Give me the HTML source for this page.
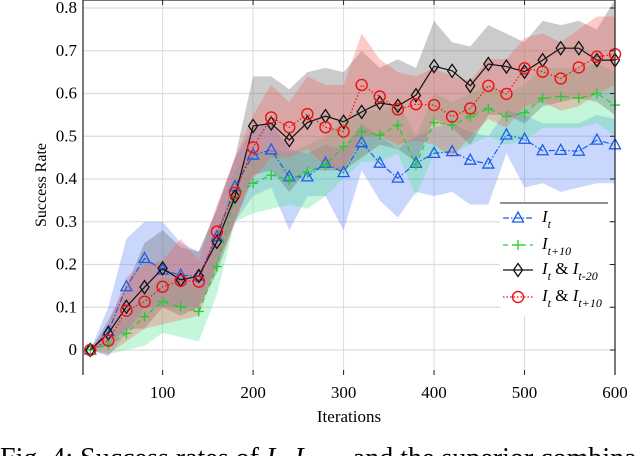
<!DOCTYPE html>
<html><head><meta charset="utf-8"><style>
html,body{margin:0;padding:0;background:#fff;width:640px;height:456px;overflow:hidden}
svg{display:block;font-family:"Liberation Serif",serif}
</style></head><body>
<svg id="chart" width="640" height="456" viewBox="0 0 640 456" xmlns="http://www.w3.org/2000/svg">
<g id="grid"></g>
<g id="bands"></g>
<g id="lines"></g>
<g id="axes"></g>
<text x="0" y="0" transform="translate(46,185) rotate(-90)" text-anchor="middle" font-size="16">Success Rate</text>
<text x="349" y="422" text-anchor="middle" font-size="17">Iterations</text>
<g id="legend"></g>
<text x="0" y="467" font-size="28" font-family="Liberation Serif, serif">Fig. 4: Success rates of <tspan font-style="italic">I</tspan><tspan font-size="18" font-style="italic" dy="5">t</tspan><tspan dy="-5">, </tspan><tspan font-style="italic">I</tspan><tspan font-size="18" font-style="italic" dy="5">t+10</tspan><tspan dy="-5">, and the superior combina</tspan></text>
</svg>
<script>
const xs=[20,40,60,80,100,120,140,160,180,200,220,240,260,280,300,320,340,360,380,400,420,440,460,480,500,520,540,560,580,600];
const blueVals=[0,0.043,0.148,0.214,0.187,0.175,0.173,0.265,0.382,0.456,0.468,0.405,0.405,0.437,0.415,0.485,0.437,0.402,0.437,0.46,0.464,0.444,0.435,0.503,0.493,0.466,0.467,0.465,0.491,0.48];
const greenVals=[0,0.012,0.039,0.078,0.113,0.101,0.09,0.195,0.359,0.39,0.409,0.398,0.417,0.433,0.476,0.511,0.503,0.526,0.433,0.532,0.526,0.546,0.565,0.546,0.555,0.589,0.593,0.589,0.6,0.573];
const blackVals=[0,0.039,0.101,0.147,0.191,0.164,0.173,0.253,0.359,0.524,0.53,0.491,0.532,0.547,0.534,0.557,0.578,0.571,0.596,0.664,0.653,0.618,0.669,0.663,0.651,0.678,0.706,0.706,0.678,0.678];
const redVals=[0,0.022,0.092,0.113,0.148,0.162,0.16,0.277,0.368,0.474,0.544,0.521,0.552,0.521,0.511,0.62,0.593,0.563,0.575,0.573,0.546,0.565,0.618,0.599,0.659,0.651,0.635,0.661,0.686,0.692];
const blueHi=[0,0.1,0.26,0.30,0.30,0.25,0.23,0.33,0.45,0.52,0.53,0.47,0.46,0.48,0.47,0.53,0.50,0.47,0.50,0.52,0.53,0.51,0.50,0.56,0.55,0.53,0.53,0.53,0.55,0.54];
const blueLo=[0,-0.015,0.04,0.1,0.1,0.1,0.1,0.2,0.3,0.36,0.38,0.28,0.36,0.36,0.28,0.42,0.35,0.31,0.37,0.36,0.37,0.34,0.34,0.46,0.38,0.39,0.37,0.38,0.39,0.39];
const greenHi=[0,0.03,0.08,0.14,0.17,0.16,0.15,0.26,0.42,0.46,0.47,0.46,0.48,0.50,0.54,0.56,0.56,0.58,0.50,0.60,0.58,0.60,0.62,0.60,0.62,0.66,0.66,0.66,0.67,0.65];
const greenLo=[0,-0.01,0,0.01,0.04,0.03,0.02,0.13,0.30,0.32,0.33,0.34,0.33,0.36,0.40,0.44,0.44,0.46,0.36,0.46,0.46,0.48,0.50,0.48,0.49,0.52,0.52,0.52,0.53,0.50];
const grayHi=[0,0.07,0.15,0.25,0.28,0.24,0.23,0.33,0.45,0.64,0.64,0.61,0.65,0.66,0.65,0.70,0.66,0.68,0.66,0.77,0.72,0.71,0.76,0.74,0.72,0.77,0.76,0.77,0.75,0.82];
const grayLo=[0,0.01,0.05,0.05,0.1,0.08,0.1,0.18,0.3,0.41,0.42,0.37,0.42,0.42,0.42,0.45,0.48,0.47,0.44,0.54,0.52,0.48,0.55,0.55,0.53,0.57,0.58,0.59,0.58,0.55];
const redHi=[0,0.06,0.17,0.20,0.21,0.26,0.21,0.34,0.45,0.55,0.62,0.58,0.64,0.62,0.62,0.74,0.68,0.65,0.64,0.66,0.64,0.63,0.68,0.68,0.73,0.74,0.72,0.75,0.78,0.78];
const redLo=[0,-0.01,0.02,0.05,0.06,0.07,0.08,0.2,0.3,0.4,0.45,0.45,0.47,0.43,0.42,0.5,0.5,0.48,0.49,0.48,0.45,0.5,0.54,0.52,0.57,0.58,0.56,0.57,0.6,0.62];
const xTicks=[100,200,300,400,500,600];
const yTicks=[0,0.1,0.2,0.3,0.4,0.5,0.6,0.7,0.8];
const yTickLabels=["0","0.1","0.2","0.3","0.4","0.5","0.6","0.7","0.8"];

const NS="http://www.w3.org/2000/svg";
const L=83,R=615,T=0,B=375;
function X(v){return L+(v-12)*(R-L)/588;}
function Y(v){return 350-v*427.5;}
function mk(tag,attrs,parent){const e=document.createElementNS(NS,tag);for(const k in attrs)e.setAttribute(k,attrs[k]);parent.appendChild(e);return e;}
const grid=document.getElementById('grid'),bands=document.getElementById('bands'),lines=document.getElementById('lines'),axes=document.getElementById('axes'),legend=document.getElementById('legend');
xTicks.forEach(t=>{
  const g=mk('line',{x1:X(t),x2:X(t),y1:T,y2:B,stroke:'#dcdcdc','stroke-width':1},grid);
  
  
  const tk=mk('line',{x1:X(t),x2:X(t),y1:B,y2:B-5,stroke:'#222'},axes);
  
  
  const tk2=mk('line',{x1:X(t),x2:X(t),y1:T,y2:T+5,stroke:'#222'},axes);
  
  
  const lb=mk('text',{x:X(t),y:B+23,'text-anchor':'middle','font-size':17},axes);
  lb.textContent=String(t);
  
  
});
yTicks.forEach((t,i)=>{
  const g=mk('line',{x1:L,x2:R,y1:Y(t),y2:Y(t),stroke:'#dcdcdc','stroke-width':1.2},grid);
  
  
  const tk=mk('line',{x1:R,x2:R-5,y1:Y(t),y2:Y(t),stroke:'#222'},axes);
  
  
  const lb=mk('text',{x:L-6,y:Y(t)+5,'text-anchor':'end','font-size':17},axes);
  lb.textContent=yTickLabels[i];
  
  
});
const ax=mk('path',{d:`M${L},${T}V${B}M${R},${T}V${B}M${L},${T}H${R}`,stroke:'#222',fill:'none','stroke-width':1.2},axes);



function band(hi,lo,color,name){
  let d='M'+xs.map((x,i)=>X(x)+','+Y(hi[i])).join('L');
  d+='L'+xs.map((x,i)=>X(x)+','+Y(lo[i])).reverse().join('L')+'Z';
  const p=mk('path',{d:d,fill:color,stroke:'none'},bands);
  
  
}
band(blueHi,blueLo,'rgba(90,130,250,0.32)','band-it');
band(greenHi,greenLo,'rgba(60,230,130,0.30)','band-it10');
band(grayHi,grayLo,'rgba(110,110,110,0.36)','band-it-it20');
band(redHi,redLo,'rgba(250,90,90,0.32)','band-it-it10');

function marker(type,x,y,color,parent){
  let e;
  if(type==='tri') e=mk('path',{d:`M${x},${y-6}L${x+5.5},${y+4}L${x-5.5},${y+4}Z`,fill:'none',stroke:color,'stroke-width':1.3},parent);
  else if(type==='plus') e=mk('path',{d:`M${x-5},${y}H${x+5}M${x},${y-5}V${y+5}`,stroke:color,'stroke-width':1.3},parent);
  else if(type==='dia') e=mk('path',{d:`M${x},${y-6.5}L${x+4.5},${y}L${x},${y+6.5}L${x-4.5},${y}Z`,fill:'none',stroke:color,'stroke-width':1.3},parent);
  else e=mk('circle',{cx:x,cy:y,r:5.5,fill:'none',stroke:color,'stroke-width':1.4},parent);
  return e;
}
function series(vals,color,dash,type,name){
  const g=mk('g',{},lines);
  
  
  const p=mk('polyline',{points:xs.map((x,i)=>X(x)+','+Y(vals[i])).join(' '),fill:'none',stroke:color,'stroke-width':1.2,'stroke-dasharray':dash},g);
  
  
  xs.forEach((x,i)=>{
    const m=marker(type,X(x),Y(vals[i]),color,g);
    
    
  });
}
series(blueVals,'#1a5ee8','6 2 1.5 2','tri','series-it');
series(greenVals,'#22cc33','5 4','plus','series-it10');
series(blackVals,'#111','','dia','series-it-it20');
series(redVals,'#ee1111','1.5 2','circ','series-it-it10');

const lbg=mk('rect',{x:500,y:203,width:108,height:113,fill:'#fff'},legend);


const ltop=mk('line',{x1:500,x2:608,y1:203,y2:203,stroke:'#222'},legend);


const entries=[
 {c:'#1a5ee8',d:'6 2 1.5 2',t:'tri',y:218,txt:['I','t'],n:'legend-entry-it'},
 {c:'#22cc33',d:'5 4',t:'plus',y:245,txt:['I','t+10'],n:'legend-entry-it10'},
 {c:'#111',d:'',t:'dia',y:270,txt:['I','t',' & ','I','t-20'],n:'legend-entry-it-it20'},
 {c:'#ee1111',d:'1.5 2',t:'circ',y:297,txt:['I','t',' & ','I','t+10'],n:'legend-entry-it-it10'}
];
entries.forEach(e=>{
  const g=mk('g',{},legend);
  
  
  mk('line',{x1:503,x2:533,y1:e.y,y2:e.y,stroke:e.c,'stroke-width':1.2,'stroke-dasharray':e.d},g);
  marker(e.t,518,e.y,e.c,g);
  const t=mk('text',{x:542,y:e.y+4,'font-size':17,'font-style':'italic'},g);
  let html='';
  for(let i=0;i<e.txt.length;i++){
    const s=e.txt[i];
    if(i%3===0) html+=`<tspan dy="0">${s}</tspan>`;
    else if(i%3===1) html+=`<tspan font-size="12" dy="6">${s}</tspan>`;
    else html+=`<tspan font-style="normal" dy="-6">${s.replace('&','&amp;')}</tspan>`;
  }
  t.innerHTML=html;
});
</script>
</body></html>
